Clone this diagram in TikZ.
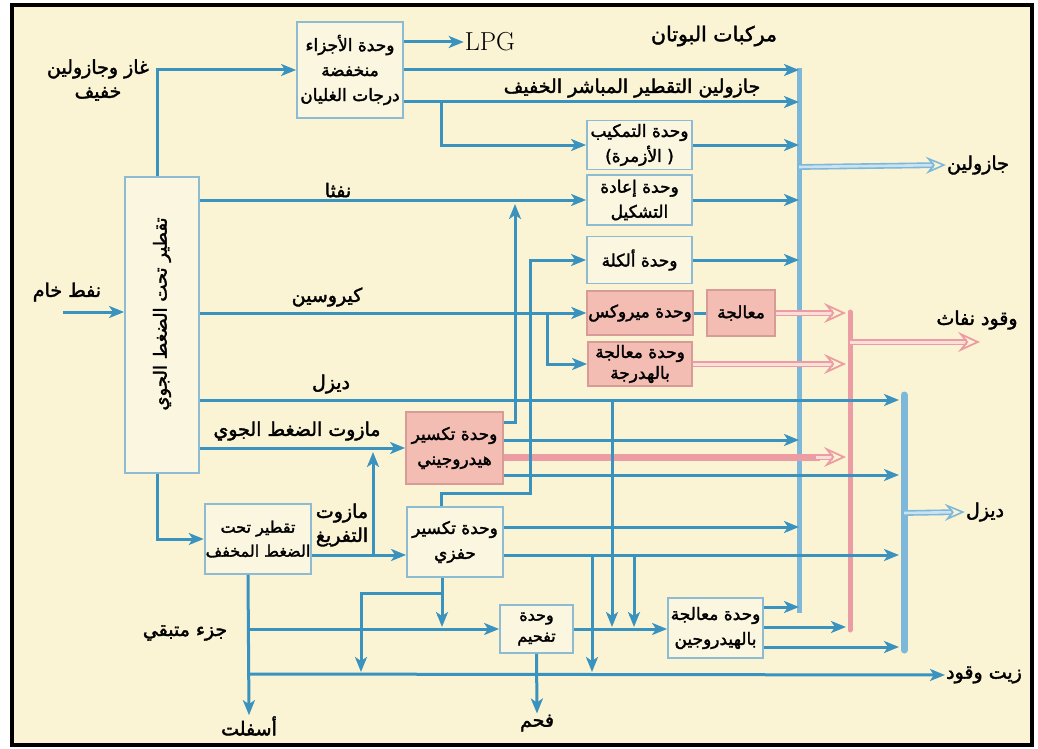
\documentclass[tikz,border=0pt]{standalone}
\usepackage{fontspec}
\usetikzlibrary{arrows.meta}
\newfontfamily\arfont[Script=Arabic,FakeBold=2]{DejaVu Sans}
\TeXXeTstate=1
\newcommand{\rtl}[1]{\beginR #1\endR}
\definecolor{cream}{HTML}{FBF4D4}
\definecolor{boxfill}{HTML}{FBF6E0}
\definecolor{boxline}{HTML}{8DBBD2}
\definecolor{flowblue}{HTML}{3A92BE}
\definecolor{collblue}{HTML}{7DB8DA}
\definecolor{pinkfill}{HTML}{F4BDB4}
\definecolor{pinkline}{HTML}{EC9CA3}
\definecolor{pinkedge}{HTML}{D79C98}
\begin{document}
\begin{tikzpicture}[x=1pt,y=-1pt,
  >={Stealth[length=15pt,width=12pt,inset=4pt]},
  flow/.style={draw=flowblue,line width=3pt},
  unit/.style={draw=boxline,line width=1.8pt,fill=boxfill,inner sep=1pt,
     font=\arfont\fontsize{17}{25}\selectfont,align=center},
  pinkunit/.style={unit,fill=pinkfill,draw=pinkedge},
  lab/.style={font=\arfont\fontsize{19}{24}\selectfont,align=center,inner sep=1pt},
  pinkout/.style={draw=pinkline,line width=1.8pt,double=pinkfill!50!white,double distance=3pt,
     -{Stealth[open,length=22pt,width=20pt,inset=8pt]}},
  blueout/.style={draw=collblue,line width=1.6pt,double=collblue!40!white,double distance=2.6pt,
     -{Stealth[open,length=20pt,width=17pt,inset=7pt]}},
]
\useasboundingbox (0,0) rectangle (1038,749);
\fill[white] (0,0) rectangle (1038,749);
\draw[line width=4pt,fill=cream] (12,5) rectangle (1032,745);

% ---------- units ----------
\node[unit,minimum width=74pt,minimum height=296pt] (atm) at (162,325)
  {\rotatebox{90}{\fontsize{18}{22}\selectfont\hspace{22pt}\rtl{تقطير تحت الضغط الجوي}}};
\node[unit,minimum width=106pt,minimum height=96pt] (lbu) at (350,70)
  {\rtl{وحدة الأجزاء}\\\rtl{منخفضة}\\\rtl{درجات الغليان}};
\node[unit,minimum width=105pt,minimum height=49pt] (iso) at (639.5,145)
  {\rtl{وحدة التمكيب}\\)\rtl{الأزمرة} (};
\node[unit,minimum width=105pt,minimum height=50pt] (ref) at (639.5,200)
  {\rtl{وحدة إعادة}\\\rtl{التشكيل}};
\node[unit,minimum width=105pt,minimum height=47pt] (alk) at (639.5,260)
  {\rtl{وحدة ألكلة}};
\node[pinkunit,minimum width=104pt,minimum height=44pt] (mer) at (640,313)
  {\rtl{وحدة ميروكس}};
\node[pinkunit,minimum width=68pt,minimum height=46pt] (trt) at (741,313)
  {\rtl{معالجة}};
\node[pinkunit,minimum width=104pt,minimum height=44pt,font=\arfont\fontsize{17}{21}\selectfont] (hyd) at (640,364)
  {\rtl{وحدة معالجة}\\\rtl{بالهدرجة}};
\node[pinkunit,minimum width=97pt,minimum height=72pt] (hcr) at (454.5,448)
  {\rtl{وحدة تكسير}\\\rtl{هيدروجيني}};
\node[unit,minimum width=100pt,minimum height=70pt,font=\arfont\fontsize{16}{24}\selectfont] (vac) at (258,539)
  {\rtl{تقطير تحت}\\\rtl{الضغط المخفف}};
\node[unit,minimum width=96pt,minimum height=70pt] (fcc) at (455,542)
  {\rtl{وحدة تكسير}\\\rtl{حفزي}};
\node[unit,minimum width=73pt,minimum height=48pt,font=\arfont\fontsize{16}{21}\selectfont] (cok) at (536.5,629)
  {\rtl{وحدة}\\\rtl{تفحيم}};
\node[unit,minimum width=95pt,minimum height=60pt] (hdt) at (715.5,628)
  {\rtl{وحدة معالجة}\\\rtl{بالهيدروجين}};

% ---------- labels ----------
\node[lab] (lgas) at (98,80) {\rtl{غاز وجازولين}\\\rtl{خفيف}};
\node[lab] (lcrude) at (67,292) {\rtl{نفط خام}};
\node[lab] (lnaph) at (338,190) {\rtl{نفثا}};
\node[lab] (lker) at (327,297) {\rtl{كيروسين}};
\node[lab] (ldsl) at (331,384) {\rtl{ديزل}};
\node[lab] (lmaz) at (297,431) {\rtl{مازوت الضغط الجوي}};
\node[lab] (lvmaz) at (342,525) {\rtl{مازوت}\\\rtl{التفريغ}};
\node[lab] (lres) at (185,633) {\rtl{جزء متبقي}};
\node[lab] (lasph) at (249,726) {\rtl{أسفلت}};
\node[lab] (lcoal) at (537,723) {\rtl{فحم}};
\node[lab,font=\arfont\fontsize{20.5}{24}\selectfont] (lbut) at (714,36) {\rtl{مركبات البوتان}};
\node[lab] (lsrg) at (632,88) {\rtl{جازولين التقطير المباشر الخفيف}};
\node[lab] (lgasol) at (978,165) {\rtl{جازولين}};
\node[lab] (ljet) at (977,320) {\rtl{وقود نفاث}};
\node[lab] (ldout) at (985,512) {\rtl{ديزل}};
\node[lab] (lfo) at (984,675) {\rtl{زيت وقود}};
\node[font=\fontsize{26}{28}\selectfont,inner sep=1pt] (lpg) at (490,42) {LPG};
\coordinate (crude) at (63,312);
\coordinate (jetend) at (980,342);

% ---------- collectors ----------
\coordinate (gc) at (799,0);
\coordinate (pc) at (850,0);
\coordinate (dc) at (904,0);
\draw[collblue,line width=5pt] (gc |- 0,68) -- (gc |- 0,613);
\draw[pinkline,line width=5pt,line cap=round] (pc |- 0,312) -- (pc |- 0,630);
\draw[collblue,line width=7pt,line cap=round] (dc |- 0,395) -- (dc |- 0,650);

% ---------- flows ----------
\draw[flow,->] (crude) -- (atm.west |- crude);
\draw[flow,->] (atm.north -| 157,0) |- (lbu.west |- 0,70);
\draw[flow,->] (lbu.east |- 0,42) -- (lpg.west);
\draw[flow,->] (lbu.east |- 0,70) -- (gc |- 0,70);
\draw[flow,->] (lbu.east |- 0,102) -- (gc |- 0,102);
\draw[flow,->] (441,102) |- (iso.west);
\draw[flow,->] (iso.east) -- (gc |- iso.east);
\draw[flow,->] (atm.east |- 0,200) -- (ref.west);
\draw[flow,->] (ref.east) -- (gc |- ref.east);
\draw[flow,->] (alk.east) -- (gc |- alk.east);
\draw[flow,->] (atm.east |- 0,313) -- (mer.west);
\draw[flow] (mer.east) -- (trt.west);
\draw[pinkout] (trt.east) -- ([xshift=-4pt]pc |- trt.east);
\draw[flow,->] (547,313) |- (hyd.west);
\draw[pinkout] (hyd.east) -- ([xshift=-4pt]pc |- hyd.east);
\draw[flow,->] (atm.east |- 0,400) -- ([xshift=-5pt]dc |- 0,400);
\draw[flow,->] (atm.east |- 0,448) -- (hcr.west);
\draw[flow,->] (hcr.east |- 0,422) -| (515,204);
\draw[flow,->] (hcr.east |- 0,440) -- (gc |- 0,440);
\draw[draw=pinkline,line width=7pt] (hcr.east |- 0,457) -- (820,457);
\draw[pinkout] (816,457) -- ([xshift=-4pt]pc |- 0,457);
\draw[flow,->] (hcr.east |- 0,475) -- ([xshift=-5pt]dc |- 0,475);
\draw[flow,->] (atm.south -| 157,0) |- (vac.west);
\draw[flow,->] (vac.east |- 0,555) -- (fcc.west |- 0,555);
\draw[flow,->] (373,555) -- (373,452);
\draw[flow,->] (fcc.north -| 441,0) -- (441,493) -- (530,493) |- (alk.west);
\draw[flow,->] (fcc.east |- 0,527) -- (gc |- 0,527);
\draw[flow,->] (fcc.east |- 0,555) -- ([xshift=-5pt]dc |- 0,555);
\draw[flow,->] (vac.south -| 248,0) -- (lasph.north);
\draw[flow,->] (248,629) -- (cok.west);
\draw[flow,->] (248,674) -- (lfo.west);
\draw[flow,->] (fcc.south -| 442,0) -- (442,627);
\draw[flow,->] (442,593) -| (361,672);
\draw[flow,->] (cok.east) -- (hdt.west |- cok.east);
\draw[flow,->] (cok.south) -- (lcoal.north);
\draw[flow,->] (592,555) -- (592,672);
\draw[flow,->] (612,400) -- (612,627);
\draw[flow,->] (634,555) -- (634,627);
\draw[flow,->] (hdt.east |- 0,607) -- (gc |- 0,607);
\draw[flow,->] (hdt.east |- 0,627) -- ([xshift=-4pt]pc |- 0,627);
\draw[flow,->] (hdt.east |- 0,647) -- ([xshift=-5pt]dc |- 0,647);

% ---------- outputs ----------
\draw[blueout] (gc |- 0,167) -- (lgasol.west);
\draw[pinkout] (pc |- 0,342) -- (jetend);
\draw[blueout] (dc |- 0,513) -- (ldout.west);
\end{tikzpicture}
\end{document}
